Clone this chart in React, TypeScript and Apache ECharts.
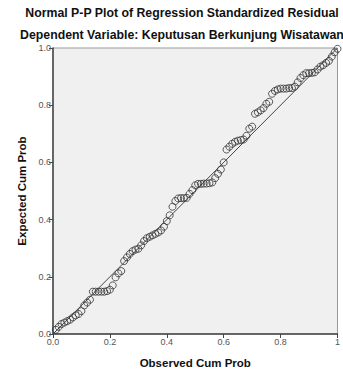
import React, { useEffect, useRef } from "react";
import * as echarts from "echarts";

const titleMain = "Normal P-P Plot of Regression Standardized Residual";
const titleSub = "Dependent Variable: Keputusan Berkunjung Wisatawan";
const xAxisName = "Observed Cum Prob";
const yAxisName = "Expected Cum Prob";

const observed = [
  0.01, 0.02, 0.03, 0.04, 0.05, 0.06, 0.07, 0.08, 0.09, 0.1,
  0.11, 0.12, 0.13, 0.14, 0.15, 0.16, 0.17, 0.18, 0.19, 0.2,
  0.21, 0.22, 0.23, 0.24, 0.25, 0.26, 0.27, 0.28, 0.29, 0.3,
  0.31, 0.32, 0.33, 0.34, 0.35, 0.36, 0.37, 0.38, 0.39, 0.4,
  0.41, 0.42, 0.43, 0.44, 0.45, 0.46, 0.47, 0.48, 0.49, 0.5,
  0.51, 0.52, 0.53, 0.54, 0.55, 0.56, 0.57, 0.58, 0.59, 0.6,
  0.61, 0.62, 0.63, 0.64, 0.65, 0.66, 0.67, 0.68, 0.69, 0.7,
  0.71, 0.72, 0.73, 0.74, 0.75, 0.76, 0.77, 0.78, 0.79, 0.8,
  0.81, 0.82, 0.83, 0.84, 0.85, 0.86, 0.87, 0.88, 0.89, 0.9,
  0.91, 0.92, 0.93, 0.94, 0.95, 0.96, 0.97, 0.98, 0.99, 1.0,
];

const expected = [
  0.015, 0.025, 0.035, 0.04, 0.045, 0.05, 0.058, 0.065, 0.07, 0.08,
  0.1, 0.11, 0.12, 0.148, 0.148, 0.148, 0.148, 0.148, 0.15, 0.155,
  0.17, 0.198, 0.212, 0.22, 0.255, 0.268, 0.28, 0.29, 0.295, 0.298,
  0.31, 0.325, 0.335, 0.34, 0.345, 0.35, 0.355, 0.362, 0.375, 0.395,
  0.415, 0.445, 0.465, 0.474, 0.475, 0.475, 0.476, 0.49, 0.503, 0.52,
  0.525, 0.525, 0.526, 0.526, 0.527, 0.53, 0.545, 0.56, 0.575, 0.6,
  0.645, 0.655, 0.665, 0.672, 0.676, 0.678, 0.68, 0.693, 0.718, 0.725,
  0.77, 0.775, 0.782, 0.79, 0.805, 0.812, 0.84, 0.85, 0.855, 0.858,
  0.858, 0.858, 0.86, 0.86, 0.865, 0.88, 0.895, 0.905, 0.912, 0.912,
  0.913, 0.915, 0.925, 0.935, 0.94, 0.948, 0.955, 0.97, 0.985, 0.997,
];

const refLine = [
  [0, 0],
  [1, 1],
];

export default function App() {
  const ref = useRef<HTMLDivElement>(null);
  useEffect(() => {
    if (!ref.current) return;
    const chart = echarts.init(ref.current, undefined, { renderer: "svg" });
    const points = observed.map((x, i) => [x, expected[i]]);
    const font = "'Liberation Sans', Arial, sans-serif";
    chart.setOption({
      animation: false,
      backgroundColor: "#ffffff",
      title: [
        {
          text: titleMain,
          left: 177,
          textAlign: "center",
          top: 2,
          padding: 5,
          textStyle: { fontFamily: font, fontSize: 12.3, fontWeight: "bold", color: "#111" },
        },
        {
          text: titleSub,
          left: 177,
          textAlign: "center",
          top: 24,
          padding: 5,
          textStyle: { fontFamily: font, fontSize: 12.3, fontWeight: "bold", color: "#111" },
        },
      ],
      grid: {
        left: 53,
        right: 1,
        top: 48,
        bottom: 35,
        show: true,
        backgroundColor: "#f0f0f0",
        borderColor: "#999",
        borderWidth: 1,
      },
      xAxis: {
        type: "value",
        min: 0,
        max: 1,
        interval: 0.2,
        name: xAxisName,
        nameLocation: "middle",
        nameGap: 23,
        nameTextStyle: { fontFamily: font, fontSize: 11.5, fontWeight: "bold", color: "#111" },
        axisLine: { show: true, onZero: false, lineStyle: { color: "#444", width: 1.5 } },
        axisTick: { show: true, length: 4, lineStyle: { color: "#444" } },
        axisLabel: {
          fontFamily: font,
          fontSize: 9,
          color: "#555",
          margin: 3,
          formatter: (v: number) => (v === 1 ? "1" : v.toFixed(1)),
        },
        splitLine: { show: false },
      },
      yAxis: {
        type: "value",
        min: 0,
        max: 1,
        interval: 0.2,
        name: yAxisName,
        nameLocation: "middle",
        nameRotate: 90,
        nameGap: 25,
        nameTextStyle: { fontFamily: font, fontSize: 11.5, fontWeight: "bold", color: "#111" },
        axisLine: { show: true, onZero: false, lineStyle: { color: "#444", width: 1.5 } },
        axisTick: { show: true, length: 4, lineStyle: { color: "#444" } },
        axisLabel: {
          fontFamily: font,
          fontSize: 9,
          color: "#555",
          margin: 2,
          formatter: (v: number) => v.toFixed(1),
        },
        splitLine: { show: false },
      },
      series: [
        {
          type: "line",
          data: refLine,
          symbol: "none",
          lineStyle: { color: "#444", width: 1 },
          silent: true,
          z: 2,
        },
        {
          type: "scatter",
          data: points,
          symbol: "circle",
          symbolSize: 7,
          itemStyle: { color: "transparent", borderColor: "#333", borderWidth: 1 },
          z: 3,
        },
      ],
    });
    return () => chart.dispose();
  }, []);
  return <div ref={ref} style={{ width: 343, height: 374, position: "absolute", left: 0, top: 0 }} />;
}
